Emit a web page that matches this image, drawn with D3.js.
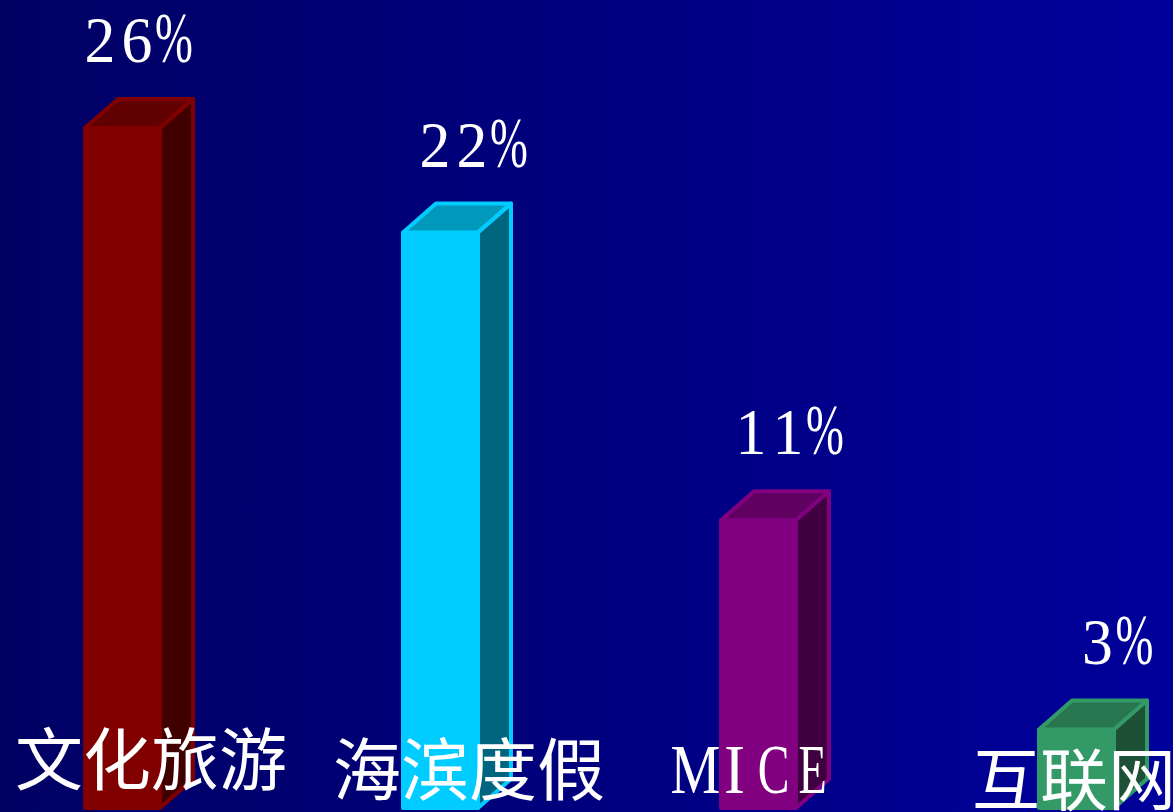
<!DOCTYPE html>
<html>
<head>
<meta charset="utf-8">
<script src="https://cdn.jsdelivr.net/npm/d3@7"></script>
<style>
  html, body { margin: 0; padding: 0; background: #000066; overflow: hidden; }
  svg { display: block; }
</style>
</head>
<body>
<svg id="chart" width="1173" height="812"></svg>
<script>
// Share of travel segments (%)
const categories = ["文化旅游", "海滨度假", "MICE", "互联网"];
const shares = [26, 22, 11, 3];
const valueLabels = ["26%", "22%", "11%", "3%"];

// Box face colours per bar: front, top, side
const frontColors = ["#800000", "#00ccff", "#800080", "#339966"];
const topColors   = ["#600000", "#0099bb", "#600060", "#287650"];
const sideColors  = ["#400000", "#006680", "#400040", "#1e5036"];

// Layout
const W = 1173, H = 812;
const depthX = 33, depthY = 29;
const cellW = 37;                              // half-width character cell for value labels
const latinCellW = 39;                         // half-width cell for Latin category labels
const valueLabelDx = [52, 69, 67, 77];         // centre of value label from bar's left edge
const catLabelDx = [-70, -70, -45, -67];       // start of category label from bar's left edge
const catLabelY = [785, 795, 793, 805];        // category label baselines

const serif = "'Liberation Serif', 'DejaVu Serif', serif";
const svg = d3.select("#chart");

// Background gradient, darker on the left
const defs = svg.append("defs");
const grad = defs.append("linearGradient")
  .attr("id", "bg").attr("x1", "0").attr("y1", "0").attr("x2", "1").attr("y2", "0");
grad.append("stop").attr("offset", "0").attr("stop-color", "#000063");
grad.append("stop").attr("offset", "1").attr("stop-color", "#00009b");
svg.append("rect").attr("width", W).attr("height", H).attr("fill", "url(#bg)");

const x = d3.scaleBand()
  .domain(categories)
  .range([85, 1114])
  .paddingInner(0.7642)
  .paddingOuter(0);

const y = d3.scaleLinear().domain([0, 26]).range([808, 128]);

const data = categories.map((c, i) => ({ c, v: shares[i], label: valueLabels[i], i }));

const bars = svg.append("g").selectAll("g.bar").data(data).join("g").attr("class", "bar");

bars.each(function (d) {
  const g = d3.select(this);
  const x0 = x(d.c), w = x.bandwidth();
  const yt = y(d.v), yb = y(0);
  const stroke = frontColors[d.i];
  const common = s => s.attr("stroke", stroke).attr("stroke-width", 4).attr("stroke-linejoin", "round");

  // front face
  common(g.append("polygon")
    .attr("points", [[x0, yt], [x0 + w, yt], [x0 + w, yb], [x0, yb]].join(" "))
    .attr("fill", frontColors[d.i]));
  // top face
  common(g.append("polygon")
    .attr("points", [[x0, yt], [x0 + depthX, yt - depthY], [x0 + w + depthX, yt - depthY], [x0 + w, yt]].join(" "))
    .attr("fill", topColors[d.i]));
  // side face
  common(g.append("polygon")
    .attr("points", [[x0 + w, yt], [x0 + w + depthX, yt - depthY], [x0 + w + depthX, yb - depthY], [x0 + w, yb]].join(" "))
    .attr("fill", sideColors[d.i]));
});

// Draws a string one character per fixed-width cell, with narrowed glyphs
function cellText(sel, str, left, baseline, cw, size, scaleFor) {
  str.split("").forEach((ch, k) => {
    const [sx, sy] = scaleFor(ch);
    sel.append("g")
      .attr("transform", `translate(${left + (k + 0.5) * cw},${baseline}) scale(${sx},${sy})`)
      .append("text")
      .attr("text-anchor", "middle")
      .attr("font-family", serif)
      .attr("font-size", size)
      .attr("fill", "#ffffff")
      .text(ch);
  });
}

// Value labels above each box
const valueLayer = svg.append("g");
data.forEach(d => {
  const cx = x(d.c) + valueLabelDx[d.i];
  cellText(valueLayer, d.label, cx - d.label.length * cellW / 2, y(d.v) - depthY - 37,
    cellW, 65, ch => (ch === "%" ? [0.7, 1.1] : [0.95, 1]));
});

// Category labels along the bottom, drawn over the boxes
const catLayer = svg.append("g");
data.forEach(d => {
  const left = x(d.c) + catLabelDx[d.i];
  if (/^[A-Za-z]+$/.test(d.c)) {
    const widths = { M: 0.8, I: 0.9, C: 0.68, E: 0.66 };
    cellText(catLayer, d.c, left, catLabelY[d.i], latinCellW, 70, ch => [widths[ch] || 0.75, 1]);
  } else {
    catLayer.append("text")
      .attr("x", left)
      .attr("y", catLabelY[d.i])
      .attr("font-family", "'Noto Sans CJK SC', sans-serif")
      .attr("font-size", 68)
      .attr("fill", "#ffffff")
      .text(d.c);
  }
});
</script>
</body>
</html>
